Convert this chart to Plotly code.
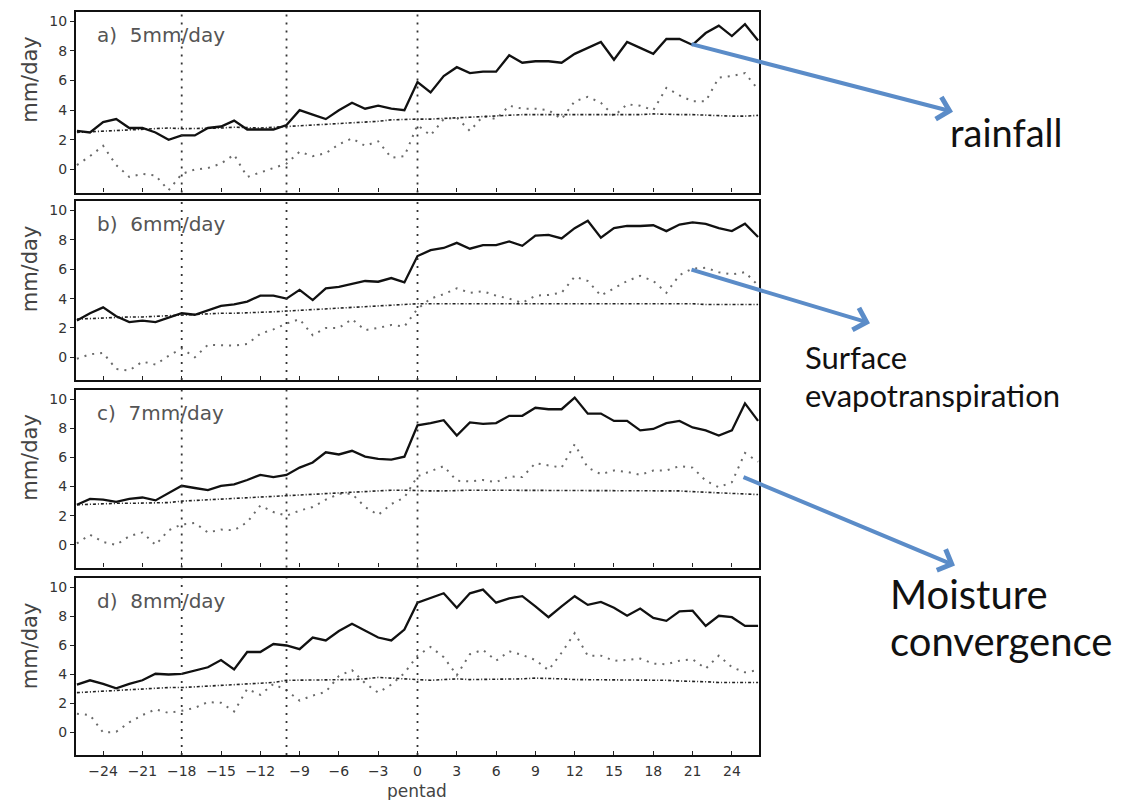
import plotly.graph_objects as go

# Pentad axis (pentads relative to monsoon onset)
pentad = list(range(-26, 27))

# a) 5 mm/day threshold
rain_a = [2.6, 2.5, 3.2, 3.4, 2.8, 2.8, 2.5, 2.0, 2.3, 2.3, 2.8, 2.9, 3.3, 2.7, 2.7, 2.7, 3.0,
          4.0, 3.7, 3.4, 4.0, 4.5, 4.1, 4.3, 4.1, 4.0, 5.9, 5.2, 6.3, 6.9, 6.5, 6.6, 6.6, 7.7,
          7.2, 7.3, 7.3, 7.2, 7.8, 8.2, 8.6, 7.4, 8.6, 8.2, 7.8, 8.8, 8.8, 8.4, 9.2, 9.7, 9.0,
          9.8, 8.7]
evap_a = [2.5, 2.55, 2.6, 2.65, 2.7, 2.75, 2.8, 2.8, 2.75, 2.75, 2.8, 2.8, 2.85, 2.8, 2.8, 2.85,
          2.9, 2.95, 3.0, 3.0, 3.05, 3.1, 3.2, 3.25, 3.35, 3.4, 3.4, 3.4, 3.45, 3.5, 3.55, 3.6,
          3.6, 3.7, 3.7, 3.7, 3.7, 3.7, 3.7, 3.7, 3.7, 3.65, 3.7, 3.7, 3.75, 3.7, 3.7, 3.7,
          3.65, 3.6, 3.6, 3.6, 3.65]
conv_a = [0.3, 0.9, 1.6, 0.3, -0.5, -0.3, -0.4, -1.4, -0.3, 0.0, 0.1, 0.4, 1.0, -0.5, -0.2, 0.1,
          0.4, 1.2, 0.9, 1.1, 1.7, 2.1, 1.6, 1.9, 0.8, 0.9, 3.0, 2.3, 3.4, 3.5, 2.6, 3.6, 3.4,
          4.3, 4.1, 4.1, 4.0, 3.4, 4.6, 4.9, 4.5, 3.6, 4.4, 4.3, 4.0, 5.5, 5.0, 4.6, 4.6, 6.2,
          6.3, 6.5, 5.4]

# b) 6 mm/day threshold
rain_b = [2.5, 3.0, 3.4, 2.8, 2.4, 2.5, 2.4, 2.7, 3.0, 2.9, 3.2, 3.5, 3.6, 3.8, 4.2, 4.2, 4.0,
          4.6, 3.9, 4.7, 4.8, 5.0, 5.2, 5.15, 5.4, 5.1, 6.9, 7.3, 7.45, 7.8, 7.4, 7.65, 7.65,
          7.9, 7.6, 8.3, 8.35, 8.1, 8.8, 9.3, 8.15, 8.8, 8.95, 8.95, 9.0, 8.6, 9.05, 9.2, 9.1,
          8.8, 8.6, 9.1, 8.2]
evap_b = [2.6, 2.65, 2.7, 2.7, 2.75, 2.75, 2.8, 2.85, 2.9, 2.9, 2.95, 3.0, 3.0, 3.05, 3.1, 3.1,
          3.15, 3.2, 3.25, 3.3, 3.35, 3.4, 3.45, 3.5, 3.55, 3.6, 3.65, 3.65, 3.65, 3.65, 3.7,
          3.7, 3.7, 3.7, 3.7, 3.7, 3.7, 3.65, 3.65, 3.65, 3.65, 3.65, 3.65, 3.65, 3.65, 3.65,
          3.65, 3.65, 3.6, 3.6, 3.6, 3.6, 3.6]
conv_b = [-0.1, 0.2, 0.3, -0.8, -0.9, -0.3, -0.5, 0.1, 0.6, 0.0, 0.85, 0.8, 0.8, 0.9, 1.6, 1.9,
          2.3, 2.6, 1.5, 2.0, 2.0, 2.6, 1.85, 2.0, 2.2, 2.1, 3.3, 4.0, 4.3, 4.7, 4.4, 4.5, 4.2,
          4.0, 3.7, 4.2, 4.25, 4.4, 5.5, 5.2, 4.2, 4.7, 5.2, 5.55, 5.2, 4.4, 5.6, 6.05, 6.1,
          5.8, 5.65, 5.8, 4.9]

# c) 7 mm/day threshold
rain_c = [2.75, 3.15, 3.1, 2.95, 3.15, 3.25, 3.05, 3.55, 4.05, 3.9, 3.75, 4.05, 4.15, 4.45, 4.8,
          4.65, 4.8, 5.3, 5.65, 6.35, 6.2, 6.45, 6.05, 5.9, 5.85, 6.05, 8.2, 8.35, 8.55, 7.5,
          8.4, 8.3, 8.35, 8.85, 8.85, 9.4, 9.3, 9.3, 10.1, 9.0, 9.0, 8.5, 8.5, 7.85, 7.95, 8.35,
          8.5, 8.05, 7.85, 7.5, 7.85, 9.7, 8.5]
evap_c = [2.75, 2.8, 2.8, 2.85, 2.85, 2.85, 2.9, 2.9, 3.0, 3.05, 3.1, 3.1, 3.15, 3.2, 3.25, 3.3,
          3.4, 3.4, 3.45, 3.5, 3.55, 3.6, 3.65, 3.7, 3.75, 3.75, 3.7, 3.7, 3.7, 3.75, 3.75, 3.75,
          3.75, 3.75, 3.7, 3.7, 3.7, 3.7, 3.7, 3.7, 3.7, 3.7, 3.7, 3.7, 3.7, 3.7, 3.7, 3.65,
          3.6, 3.55, 3.5, 3.5, 3.45]
conv_c = [0.1, 0.7, 0.2, 0.0, 0.6, 0.85, 0.0, 1.0, 1.4, 1.5, 0.85, 1.05, 1.0, 1.55, 2.7, 2.25,
          2.0, 2.35, 2.6, 3.1, 3.5, 3.5, 2.6, 2.05, 2.8, 3.25, 4.7, 5.05, 5.4, 4.4, 4.35, 4.45,
          4.3, 4.7, 4.65, 5.6, 5.45, 5.3, 6.9, 5.3, 4.85, 5.1, 5.0, 4.8, 5.1, 5.1, 5.4, 5.3,
          4.4, 3.95, 4.3, 6.3, 5.7]

# d) 8 mm/day threshold
rain_d = [3.3, 3.6, 3.35, 3.05, 3.35, 3.6, 4.05, 4.0, 4.05, 4.25, 4.5, 5.0, 4.35, 5.55, 5.55,
          6.1, 6.0, 5.75, 6.55, 6.35, 7.0, 7.5, 7.0, 6.55, 6.35, 7.1, 8.95, 9.3, 9.6, 8.6, 9.6,
          9.85, 8.95, 9.25, 9.4, 8.7, 7.95, 8.7, 9.4, 8.8, 9.0, 8.6, 8.05, 8.55, 7.9, 7.7, 8.35,
          8.4, 7.35, 8.05, 7.95, 7.35, 7.35]
evap_d = [2.75, 2.8, 2.9, 2.95, 3.0, 3.05, 3.05, 3.1, 3.1, 3.15, 3.2, 3.25, 3.25, 3.3, 3.4, 3.45,
          3.6, 3.6, 3.6, 3.65, 3.65, 3.65, 3.7, 3.8, 3.75, 3.7, 3.6, 3.6, 3.65, 3.7, 3.65, 3.65,
          3.65, 3.65, 3.7, 3.75, 3.75, 3.7, 3.65, 3.65, 3.65, 3.65, 3.65, 3.6, 3.6, 3.6, 3.55,
          3.55, 3.5, 3.45, 3.45, 3.45, 3.45]
conv_d = [1.3, 1.2, 0.0, 0.05, 0.7, 1.2, 1.6, 1.35, 1.5, 1.7, 2.1, 2.05, 1.45, 3.0, 2.6, 3.35,
          2.9, 2.2, 2.55, 2.8, 3.9, 4.3, 3.4, 2.75, 3.3, 4.1, 5.3, 5.9, 5.2, 3.95, 5.4, 5.7,
          4.95, 5.6, 5.35, 5.0, 4.3, 5.5, 6.85, 5.3, 5.3, 4.95, 5.0, 5.1, 4.75, 4.7, 4.95, 5.05,
          4.4, 5.3, 4.5, 4.15, 4.3]

panel_titles = ["a)  5mm/day", "b)  6mm/day", "c)  7mm/day", "d)  8mm/day"]
panels = [(rain_a, evap_a, conv_a), (rain_b, evap_b, conv_b),
          (rain_c, evap_c, conv_c), (rain_d, evap_d, conv_d)]

marker_pentads = [-18, -10, 0]
y_ticks = [0, 2, 4, 6, 8, 10]
x_ticks = [-24, -21, -18, -15, -12, -9, -6, -3, 0, 3, 6, 9, 12, 15, 18, 21, 24]

W, H = 1127, 800
ML, MR, MT, MB = 76, 368, 10, 45
PW, PH = W - ML - MR, H - MT - MB

# panel boxes in pixel rows (top, bottom)
boxes = [(10, 191), (200, 379), (389, 567), (578, 755)]


def px_x(px):
    return (px - ML) / PW


def px_y(py):
    return (H - MB - py) / PH


fig = go.Figure()
layout = dict(width=W, height=H, margin=dict(l=ML, r=MR, t=MT, b=MB),
              paper_bgcolor="white", plot_bgcolor="white", showlegend=False)

axis_font = dict(family="DejaVu Sans", size=14, color="#333")
annotations = []
shapes = []

for i, ((rain, evap, conv), title) in enumerate(zip(panels, panel_titles)):
    n = i + 1
    xa = "x" if n == 1 else f"x{n}"
    ya = "y" if n == 1 else f"y{n}"
    fig.add_trace(go.Scatter(x=pentad, y=conv, mode="lines", xaxis=xa, yaxis=ya,
                             line=dict(color="#6a6a6a", width=2, dash="2px,6px")))
    fig.add_trace(go.Scatter(x=pentad, y=evap, mode="lines", xaxis=xa, yaxis=ya,
                             line=dict(color="#222", width=1.6, dash="3px,2px,1px,2px")))
    fig.add_trace(go.Scatter(x=pentad, y=rain, mode="lines", xaxis=xa, yaxis=ya,
                             line=dict(color="#111", width=2.3)))

    top, bot = boxes[i]
    layout["xaxis" if n == 1 else f"xaxis{n}"] = dict(
        domain=[0, 1], range=[-26.07, 26.07], anchor=ya,
        tickvals=x_ticks, ticks="inside", ticklen=4, tickcolor="#222",
        showticklabels=(n == 4), tickfont=axis_font, ticklabelstandoff=2,
        showline=True, linecolor="#111", linewidth=2.2, mirror=True,
        showgrid=False, zeroline=False,
        matches=None if n == 1 else "x")
    layout["yaxis" if n == 1 else f"yaxis{n}"] = dict(
        domain=[px_y(bot), px_y(top)], range=[-1.55, 10.62], anchor=xa,
        tickvals=y_ticks, ticks="outside", ticklen=4, tickcolor="#222",
        tickfont=axis_font, showline=True, linecolor="#111", linewidth=2.2,
        mirror=True, showgrid=False, zeroline=False)

    for p in marker_pentads:
        shapes.append(dict(type="line", xref=xa, yref=f"{ya} domain",
                           x0=p, x1=p, y0=0, y1=1,
                           line=dict(color="#333", width=1.8, dash="2px,6px")))

    annotations.append(dict(text=title, xref="paper", yref="paper",
                            x=px_x(95), y=px_y(top + 23), xanchor="left",
                            yanchor="middle", showarrow=False,
                            font=dict(family="DejaVu Sans", size=20, color="#555")))
    annotations.append(dict(text="mm/day", xref="paper", yref="paper",
                            x=px_x(30), y=px_y(top + 68), textangle=-90,
                            xanchor="center", yanchor="middle", showarrow=False,
                            font=dict(family="DejaVu Sans", size=21, color="#444")))

annotations.append(dict(text="pentad", xref="paper", yref="paper",
                        x=px_x(417), y=px_y(791), xanchor="center", yanchor="middle",
                        showarrow=False,
                        font=dict(family="DejaVu Sans", size=17, color="#444")))

# callout arrows and labels
arrow_col = "#5b8cc8"
callouts = [
    # head (px), tail offset (px)
    ((953, 110), (-263, -68)),
    ((870, 322), (-180, -54)),
    ((955, 565), (-213, -89)),
]
for (hx, hy), (ax, ay) in callouts:
    annotations.append(dict(text="", xref="paper", yref="paper", x=px_x(hx), y=px_y(hy),
                            ax=ax, ay=ay, showarrow=True, arrowhead=4, arrowsize=1.1,
                            arrowwidth=4, arrowcolor=arrow_col, standoff=0))

labels = [
    ("rainfall", 948, 130, 38),
    ("Surface", 803, 356, 31),
    ("evapotranspiration", 803, 394, 31),
    ("Moisture", 888, 594, 40),
    ("convergence", 888, 641, 40),
]
for txt, lx, ly, fs in labels:
    annotations.append(dict(text=txt, xref="paper", yref="paper", x=px_x(lx), y=px_y(ly),
                            xanchor="left", yanchor="middle", showarrow=False,
                            font=dict(family="Lato", size=fs, color="#111")))

layout["annotations"] = annotations
layout["shapes"] = shapes
fig.update_layout(**layout)

fig.write_html("out.html")
